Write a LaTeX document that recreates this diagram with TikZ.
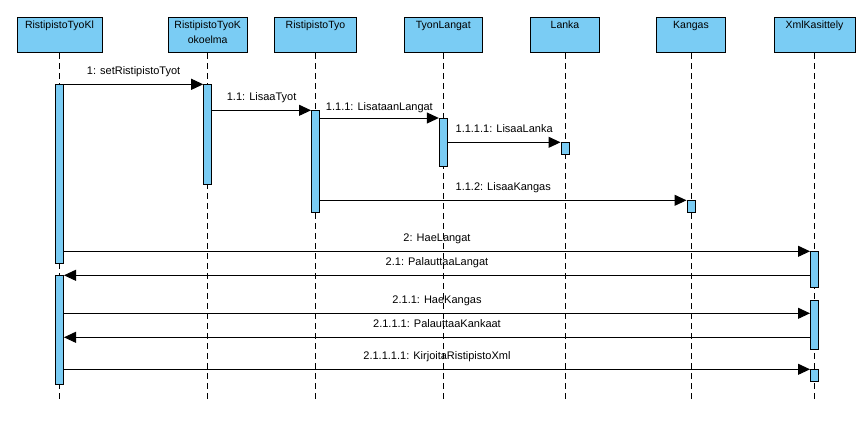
\documentclass[tikz,border=0pt]{standalone}
\usepackage{fontspec}
\setmainfont{Liberation Sans}
\usetikzlibrary{arrows.meta}
\definecolor{lifeblue}{RGB}{122,204,244}
\begin{document}
\begin{tikzpicture}[x=1pt,y=-1pt,line width=1pt,
    head/.style={draw,fill=lifeblue,anchor=north,minimum height=35pt,inner sep=0pt},
    htext/.style={anchor=north,align=center,inner sep=0pt,yshift=-3.7pt,
      font=\fontsize{10.5}{15}\selectfont},
    act/.style={draw,fill=lifeblue,anchor=north,minimum width=8pt,inner sep=0pt},
    life/.style={dash pattern=on 6pt off 4pt},
    msg/.style={-{Triangle[length=12pt,width=11pt]}},
    lbl/.style={midway,anchor=base,yshift=10pt,inner sep=0pt,font=\fontsize{11}{13}\selectfont}]
  \useasboundingbox(0,0)rectangle(866,424);
  % lifeline heads
  \node[head,minimum width=85pt](h1)at(59.5,17){};
  \node[htext]at(h1.north){RistipistoTyoKl};
  \node[head,minimum width=79pt](h2)at(207.7,17){};
  \node[htext]at(h2.north){RistipistoTyoK\\okoelma};
  \node[head,minimum width=82pt](h3)at(315.5,17){};
  \node[htext]at(h3.north){RistipistoTyo};
  \node[head,minimum width=78pt](h4)at(443.3,17){};
  \node[htext]at(h4.north){TyonLangat};
  \node[head,minimum width=69pt](h5)at(565,17){};
  \node[htext]at(h5.north){Lanka};
  \node[head,minimum width=69pt](h6)at(691,17){};
  \node[htext]at(h6.north){Kangas};
  \node[head,minimum width=81pt](h7)at(814.5,17){};
  \node[htext]at(h7.north){XmlKasittely};
  \foreach \h in {h1,h2,h3,h4,h5,h6,h7}
    \draw[life](\h.south)--(\h.south|-0,401.7);
  % activations
  \node[act,minimum height=179pt](a1)at(59.5,84.3){};
  \node[act,minimum height=108.4pt](a1b)at(59.5,275.3){};
  \node[act,minimum height=99.7pt](a2)at(207.7,84.3){};
  \node[act,minimum height=102pt](a3)at(315.5,110.3){};
  \node[act,minimum height=48pt](a4)at(443.3,118){};
  \node[act,minimum height=12pt](a5)at(565,142.3){};
  \node[act,minimum height=12pt](a6)at(691,200.3){};
  \node[act,minimum height=36pt](a7)at(814.5,251.3){};
  \node[act,minimum height=48.7pt](a7b)at(814.5,300.3){};
  \node[act,minimum height=12pt](a7c)at(814.5,369.3){};
  % messages
  \draw[msg](a1.north east)--(a2.north west)node[lbl]{1: setRistipistoTyot};
  \draw[msg](a2.east|-a3.north)--(a3.north west)node[lbl]{1.1: LisaaTyot};
  \draw[msg](a3.east|-a4.north)--(a4.north west)node[lbl,yshift=-2pt]{1.1.1: LisataanLangat};
  \draw[msg](a4.east|-a5.north)--(a5.north west)node[lbl]{1.1.1.1: LisaaLanka};
  \draw[msg](a3.east|-a6.north)--(a6.north west)node[lbl]{1.1.2: LisaaKangas};
  \draw[msg](a1.east|-a7.north)--(a7.north west)node[lbl]{2: HaeLangat};
  \draw[msg](a7.west|-a1b.north)--(a1b.north east)node[lbl]{2.1: PalauttaaLangat};
  \draw[msg](a1b.east|-0,313.3)--(a7b.west|-0,313.3)node[lbl]{2.1.1: HaeKangas};
  \draw[msg](a7b.west|-0,337.3)--(a1b.east|-0,337.3)node[lbl]{2.1.1.1: PalauttaaKankaat};
  \draw[msg](a1b.east|-a7c.north)--(a7c.north west)node[lbl]{2.1.1.1.1: KirjoitaRistipistoXml};
\end{tikzpicture}
\end{document}
